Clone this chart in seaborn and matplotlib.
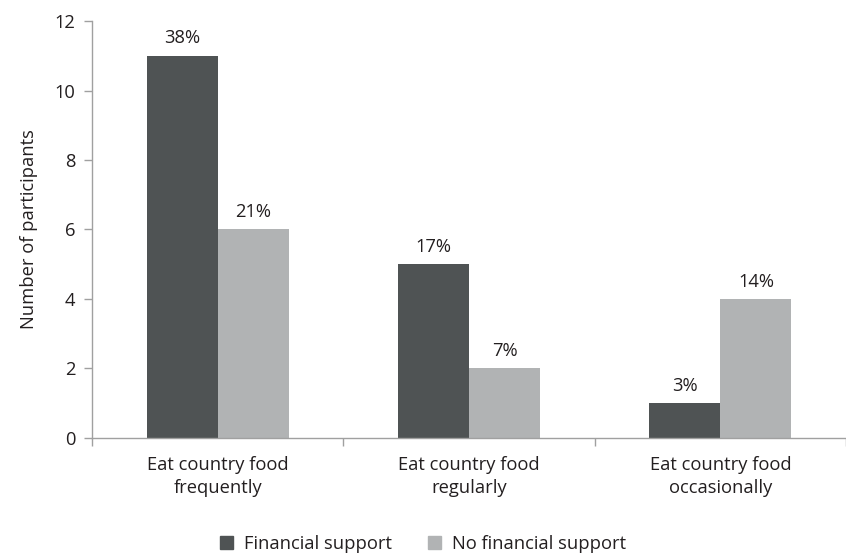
import numpy as np
import matplotlib.pyplot as plt
import seaborn as sns
import pandas as pd

# Data
categories = ['Eat country food\nfrequently', 'Eat country food\nregularly',
              'Eat country food\noccasionally']
groups = ['Financial support', 'No financial support']
financial = [11, 5, 1]
no_financial = [6, 2, 4]
pct_financial = ['38%', '17%', '3%']
pct_no_financial = ['21%', '7%', '14%']

df = pd.DataFrame({
    'category': categories * 2,
    'group': [groups[0]] * 3 + [groups[1]] * 3,
    'count': financial + no_financial,
})

sns.set_style('white')
plt.rcParams['font.family'] = ['Open Sans', 'DejaVu Sans']
fs = 13.2
txt = '#231f20'

fig = plt.figure(figsize=(8.46, 5.53), dpi=100)
ax = fig.add_axes([0.109, 0.208, 0.891, 0.754])

palette = {groups[0]: '#4f5354', groups[1]: '#b1b3b4'}
sns.barplot(data=df, x='category', y='count', hue='group', palette=palette,
            width=0.566, saturation=1, edgecolor='none', ax=ax, legend=False)

for cont, labels in zip(ax.containers, [pct_financial, pct_no_financial]):
    ax.bar_label(cont, labels=labels, padding=6, fontsize=fs, color=txt)

ax.set_ylim(0, 12)
ax.set_yticks(np.arange(0, 13, 2))
ax.set_xlim(-0.5, 2.44)
ax.set_xlabel('')
ax.set_ylabel('Number of participants', fontsize=fs, color=txt, labelpad=12)

# tick marks between the categories only
ax.set_xticks([-0.5, 0.5, 1.5, 2.5], minor=True)
ax.tick_params(axis='x', which='major', length=0, pad=13, labelsize=fs,
               labelcolor=txt)
for lab in ax.get_xticklabels():
    lab.set_linespacing(1.35)
ax.tick_params(axis='x', which='minor', length=6, width=1, color='#a0a0a0',
               direction='out', bottom=True)
ax.tick_params(axis='y', length=6, width=1, color='#a0a0a0', direction='out',
               left=True, labelsize=fs, labelcolor=txt, pad=6)

for side in ['top', 'right']:
    ax.spines[side].set_visible(False)
for side in ['left', 'bottom']:
    ax.spines[side].set_color('#a0a0a0')
    ax.spines[side].set_linewidth(1)

handles = [plt.Rectangle((0, 0), 1, 1, color=palette[g]) for g in groups]
fig.legend(handles, groups, loc='lower center', ncol=2, frameon=False,
           fontsize=fs, handlelength=0.7, handleheight=0.7,
           handletextpad=0.6, columnspacing=2.0,
           bbox_to_anchor=(0.5, -0.03), labelcolor=txt)

plt.savefig('out.png', dpi=100)
